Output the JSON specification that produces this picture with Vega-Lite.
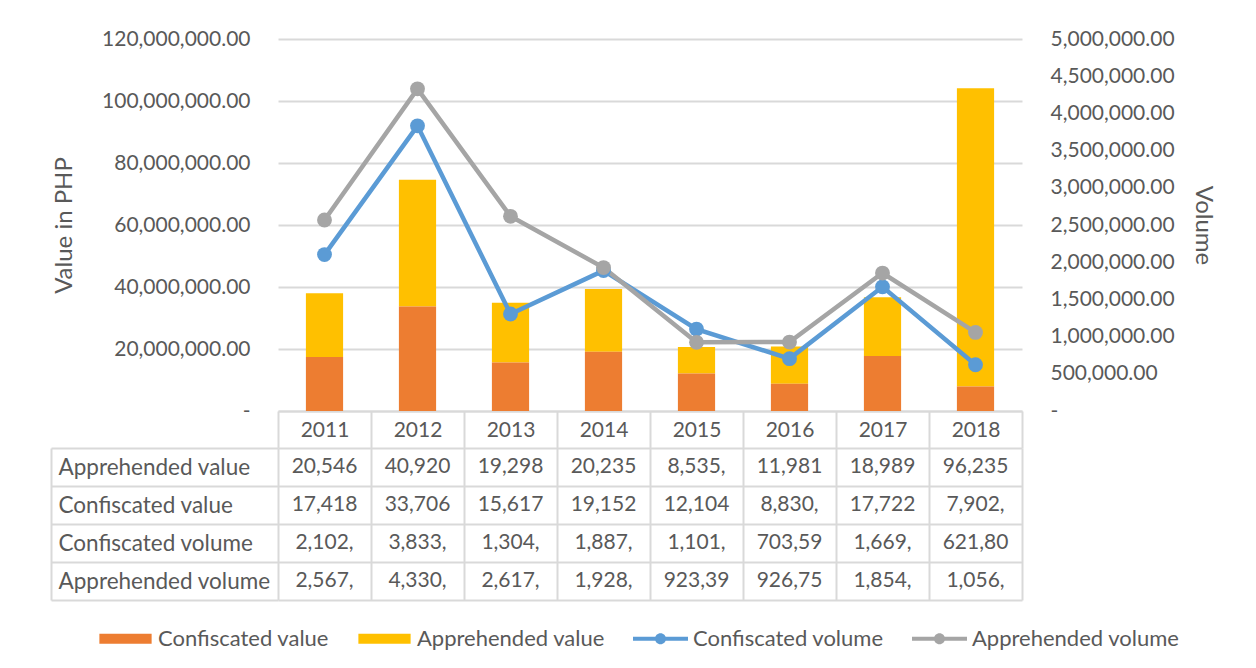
{
  "$schema": "https://vega.github.io/schema/vega-lite/v6.json",
  "background": "white",
  "padding": {"left": 50, "top": 28, "right": 10, "bottom": 10},
  "bounds": "flush",
  "spacing": 37,
  "resolve": {"scale": {"x": "independent"}},
  "config": {
    "view": {"stroke": null},
    "font": "Lato",
    "axis": {
      "labelFont": "Lato", "titleFont": "Lato",
      "labelColor": "#595959", "titleColor": "#595959",
      "labelFontSize": 21, "titleFontSize": 24, "titleFontWeight": "normal"
    },
    "legend": {"labelFont": "Lato", "labelFontSize": 22, "labelColor": "#595959"}
  },
  "data": {
    "values": [
      {"year": "2011", "series": "Apprehended value", "value": 20546000},
      {"year": "2011", "series": "Confiscated value", "value": 17418000},
      {"year": "2011", "series": "Confiscated volume", "value": 2102000},
      {"year": "2011", "series": "Apprehended volume", "value": 2567000},
      {"year": "2012", "series": "Apprehended value", "value": 40920000},
      {"year": "2012", "series": "Confiscated value", "value": 33706000},
      {"year": "2012", "series": "Confiscated volume", "value": 3833000},
      {"year": "2012", "series": "Apprehended volume", "value": 4330000},
      {"year": "2013", "series": "Apprehended value", "value": 19298000},
      {"year": "2013", "series": "Confiscated value", "value": 15617000},
      {"year": "2013", "series": "Confiscated volume", "value": 1304000},
      {"year": "2013", "series": "Apprehended volume", "value": 2617000},
      {"year": "2014", "series": "Apprehended value", "value": 20235000},
      {"year": "2014", "series": "Confiscated value", "value": 19152000},
      {"year": "2014", "series": "Confiscated volume", "value": 1887000},
      {"year": "2014", "series": "Apprehended volume", "value": 1928000},
      {"year": "2015", "series": "Apprehended value", "value": 8535000},
      {"year": "2015", "series": "Confiscated value", "value": 12104000},
      {"year": "2015", "series": "Confiscated volume", "value": 1101000},
      {"year": "2015", "series": "Apprehended volume", "value": 923390},
      {"year": "2016", "series": "Apprehended value", "value": 11981000},
      {"year": "2016", "series": "Confiscated value", "value": 8830000},
      {"year": "2016", "series": "Confiscated volume", "value": 703590},
      {"year": "2016", "series": "Apprehended volume", "value": 926750},
      {"year": "2017", "series": "Apprehended value", "value": 18989000},
      {"year": "2017", "series": "Confiscated value", "value": 17722000},
      {"year": "2017", "series": "Confiscated volume", "value": 1669000},
      {"year": "2017", "series": "Apprehended volume", "value": 1854000},
      {"year": "2018", "series": "Apprehended value", "value": 96235000},
      {"year": "2018", "series": "Confiscated value", "value": 7902000},
      {"year": "2018", "series": "Confiscated volume", "value": 621800},
      {"year": "2018", "series": "Apprehended volume", "value": 1056000}
    ]
  },
  "vconcat": [
    {
      "width": 744,
      "height": 372,
      "layer": [
        {
          "transform": [{"filter": "indexof(datum.series, 'value') >= 0"}],
          "mark": {"type": "bar", "width": {"band": 0.4}},
          "encoding": {
            "x": {
              "field": "year", "type": "nominal",
              "scale": {"paddingInner": 0, "paddingOuter": 0},
              "axis": {
                "title": null, "labelAngle": 0, "grid": false,
                "tickBand": "extent", "ticks": true, "tickSize": 37,
                "tickColor": "#d9d9d9", "tickWidth": 2,
                "domainColor": "#d9d9d9", "domainWidth": 2,
                "labelPadding": -18, "labelBaseline": "middle"
              }
            },
            "y": {
              "field": "value", "type": "quantitative", "stack": "zero",
              "scale": {"domain": [0, 120000000]},
              "axis": {
                "title": "Value in PHP",
                "values": [0, 20000000, 40000000, 60000000, 80000000, 100000000, 120000000],
                "labelExpr": "datum.value == 0 ? '-' : format(datum.value, ',.2f')",
                "grid": true, "gridColor": "#d9d9d9", "gridWidth": 2,
                "domain": false, "ticks": false, "labelPadding": 28, "titlePadding": 25
              }
            },
            "color": {
              "field": "series", "type": "nominal",
              "scale": {
                "domain": ["Confiscated value", "Apprehended value", "Confiscated volume", "Apprehended volume"],
                "range": ["#ED7D31", "#FFC000", "#5B9BD5", "#A5A5A5"]
              },
              "legend": {
                "title": null, "orient": "none", "direction": "horizontal",
                "legendX": -180, "legendY": 572,
                "symbolSize": 3025, "columnPadding": 28, "labelOffset": 5,
                "labelLimit": 0,
                "encode": {
                  "symbols": {
                    "update": {
                      "shape": {"signal": "indexof(datum.value, 'volume') >= 0 ? 'M-1,-0.075H1V0.075H-1Z M0,-0.2A0.2,0.2 0 1,1 0,0.2A0.2,0.2 0 1,1 0,-0.2Z' : 'M-0.95,-0.18H0.95V0.18H-0.95Z'"},
                      "fill": {"scale": "color", "field": "value"},
                      "stroke": {"value": "transparent"},
                      "strokeWidth": {"value": 0},
                      "opacity": {"value": 1}
                    }
                  }
                }
              }
            },
            "order": {"field": "series", "sort": "descending"}
          }
        },
        {
          "transform": [{"filter": "indexof(datum.series, 'volume') >= 0"}],
          "mark": {"type": "line", "strokeWidth": 4.5, "point": {"size": 220, "filled": true, "opacity": 1}},
          "encoding": {
            "x": {"field": "year", "type": "nominal"},
            "y": {
              "field": "value", "type": "quantitative",
              "scale": {"domain": [0, 5000000]},
              "axis": {
                "orient": "right", "title": "Volume",
                "values": [0, 500000, 1000000, 1500000, 2000000, 2500000, 3000000, 3500000, 4000000, 4500000, 5000000],
                "labelExpr": "datum.value == 0 ? '-' : format(datum.value, ',.2f')",
                "grid": false, "domain": false, "ticks": false,
                "labelPadding": 28, "titlePadding": 16
              }
            },
            "color": {"field": "series", "type": "nominal"}
          }
        }
      ],
      "resolve": {"scale": {"y": "independent"}}
    },
    {
      "width": 744,
      "height": 152,
      "transform": [{"calculate": "substring(format(datum.value, ',.2f'), 0, 6)", "as": "label"}],
      "mark": {"type": "text", "fontSize": 21, "color": "#595959", "font": "Lato", "baseline": "middle"},
      "encoding": {
        "x": {
          "field": "year", "type": "nominal",
          "scale": {"paddingInner": 0, "paddingOuter": 0},
          "axis": {
            "title": null, "labels": false, "ticks": false, "domain": false,
            "grid": true, "tickBand": "extent", "gridColor": "#d9d9d9", "gridWidth": 2
          }
        },
        "y": {
          "field": "series", "type": "nominal",
          "sort": ["Apprehended value", "Confiscated value", "Confiscated volume", "Apprehended volume"],
          "scale": {"paddingInner": 0, "paddingOuter": 0},
          "axis": {
            "title": null, "grid": true, "gridColor": "#d9d9d9", "gridWidth": 2,
            "tickBand": "extent", "offset": 227,
            "domain": true, "domainColor": "#d9d9d9", "domainWidth": 2,
            "ticks": true, "tickColor": "#d9d9d9", "tickWidth": 2, "tickSize": -227,
            "labelAlign": "left", "labelPadding": 220, "labelLimit": 0, "labelBaseline": "middle",
            "labelFontSize": 22.5
          }
        },
        "text": {"field": "label"}
      }
    }
  ]
}
